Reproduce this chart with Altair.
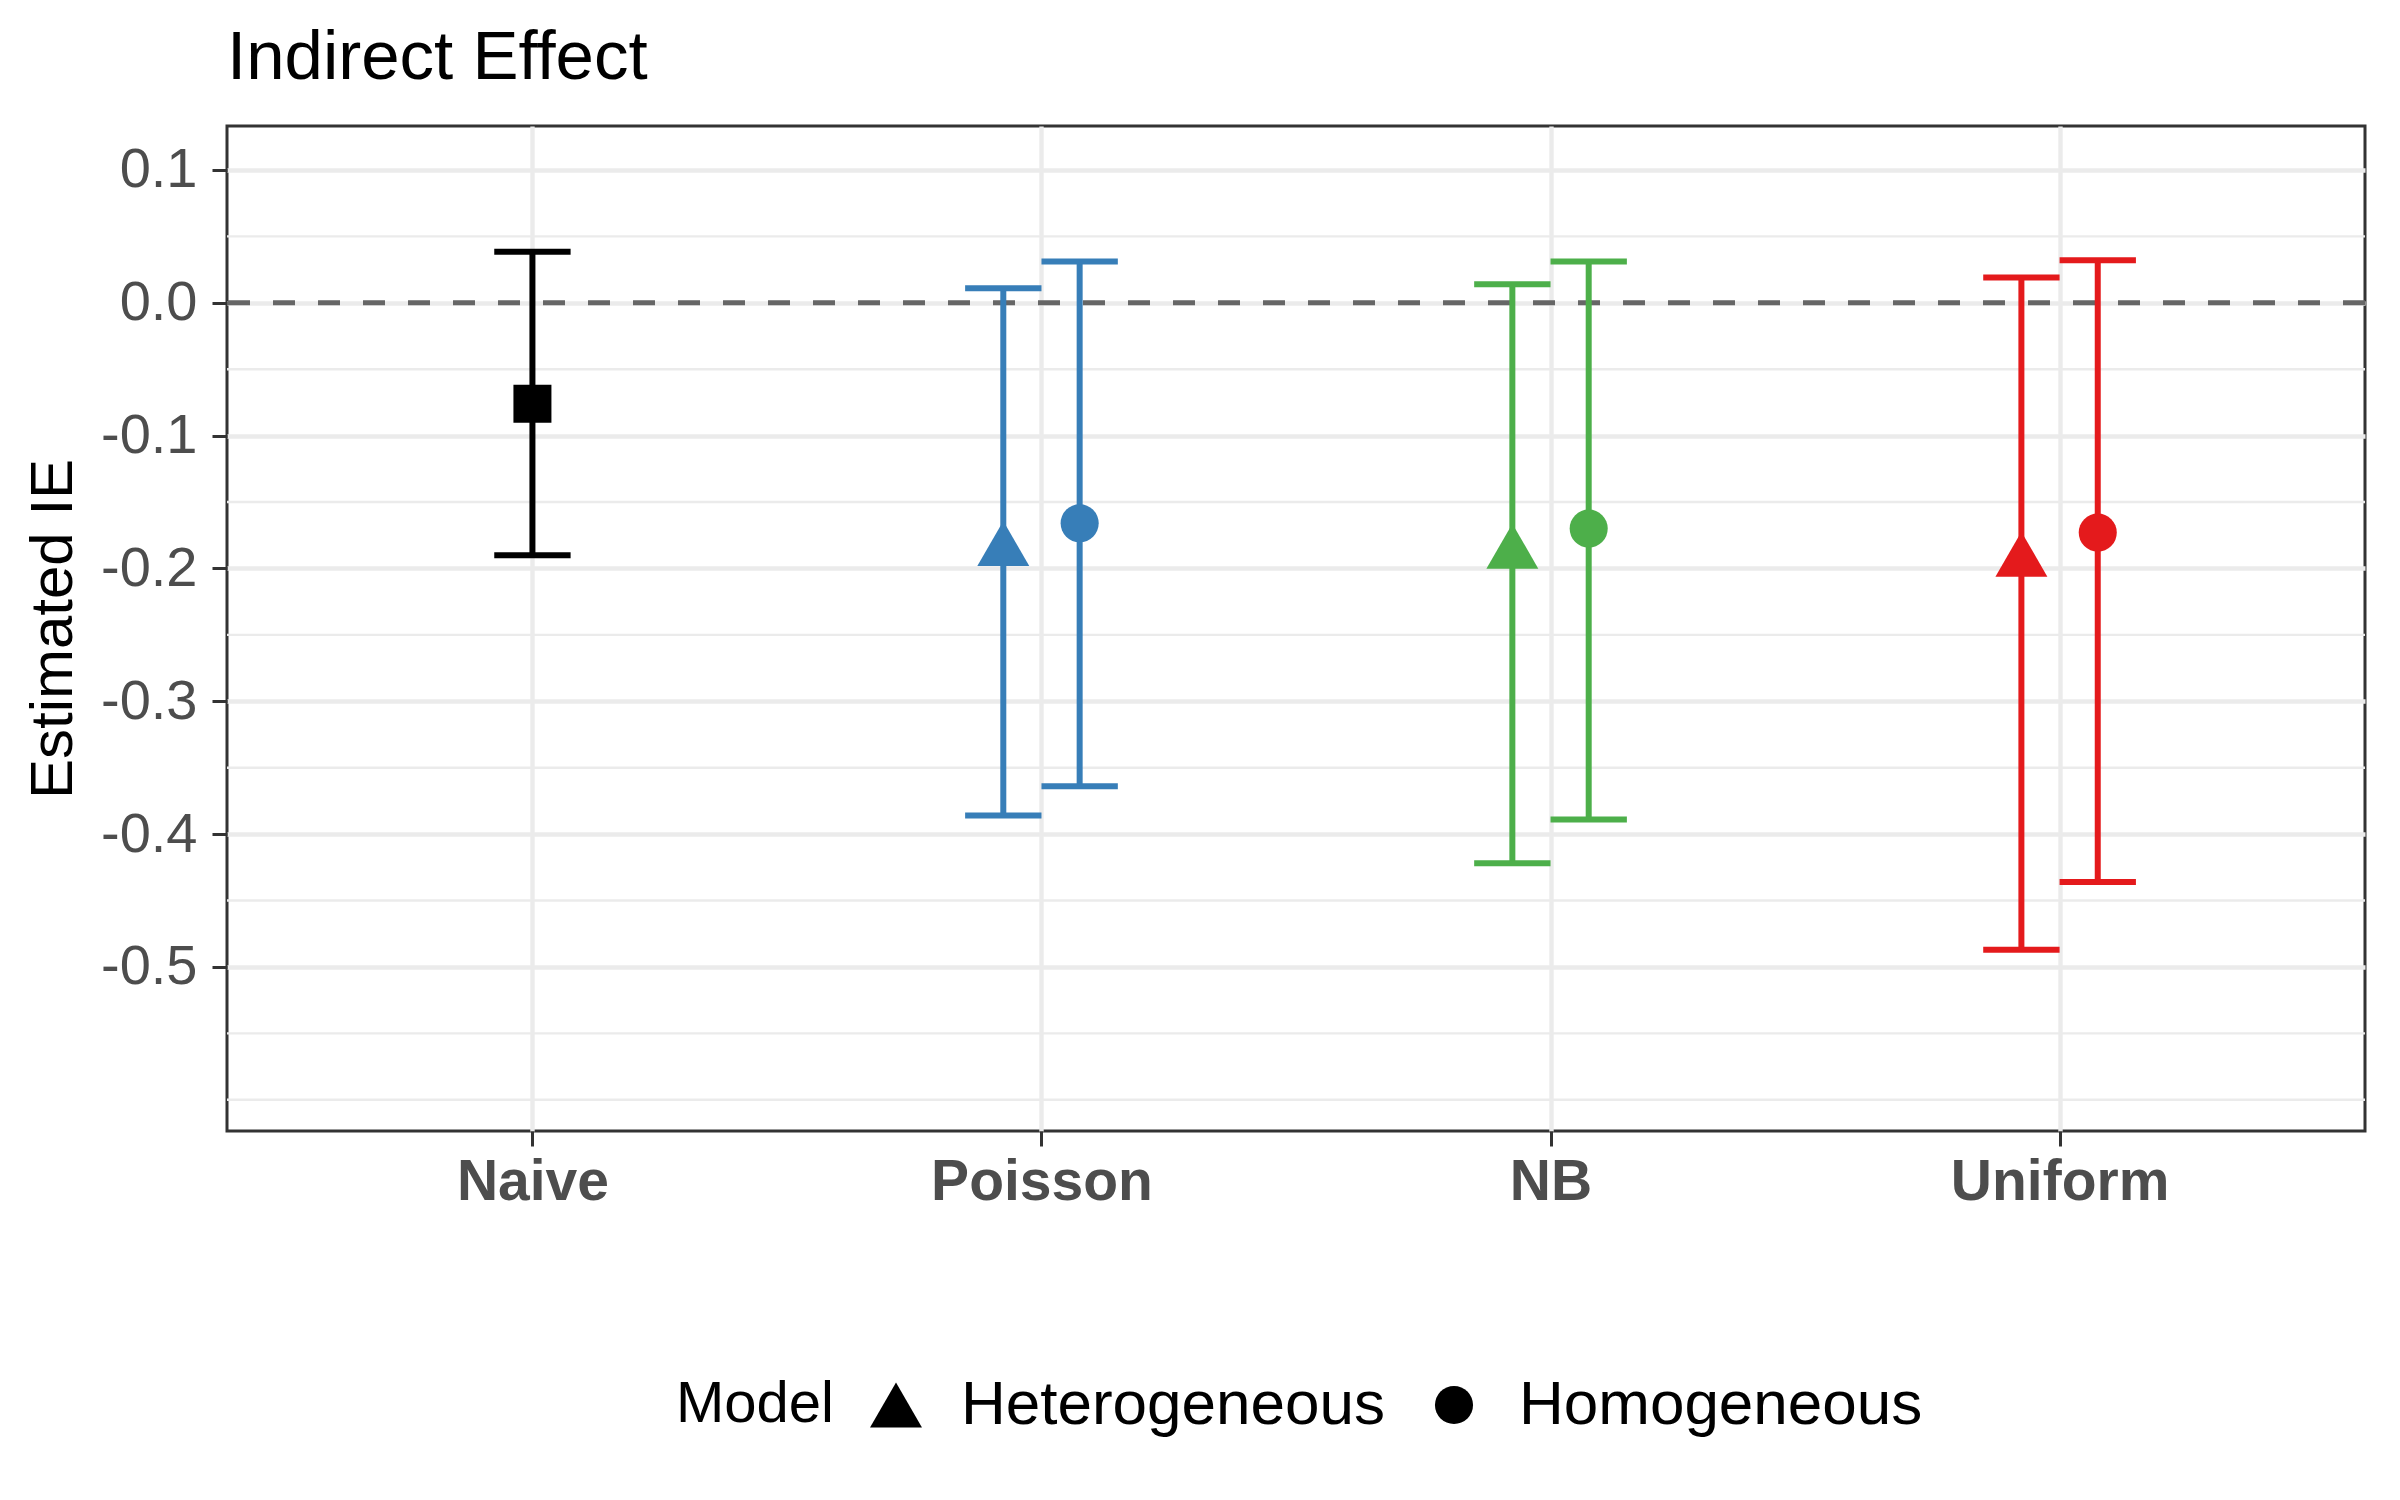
import altair as alt
import pandas as pd

# ---- data ----
methods = ["Naive", "Poisson", "Poisson", "NB", "NB", "Uniform", "Uniform"]
models = ["Naive", "Heterogeneous", "Homogeneous", "Heterogeneous", "Homogeneous",
          "Heterogeneous", "Homogeneous"]
estimates = [-0.076, -0.188, -0.166, -0.190, -0.170, -0.196, -0.173]
lower = [-0.190, -0.386, -0.364, -0.422, -0.389, -0.487, -0.436]
upper = [0.0385, 0.011, 0.031, 0.014, 0.031, 0.019, 0.032]

categories = ["Naive", "Poisson", "NB", "Uniform"]
colors = ["#000000", "#377EB8", "#4DAF4A", "#E41A1C"]
model_levels = ["Heterogeneous", "Homogeneous"]
model_shapes = ["triangle-up", "circle"]
y_breaks = [-0.5, -0.4, -0.3, -0.2, -0.1, 0.0, 0.1]
y_minor = [-0.6, -0.55, -0.45, -0.35, -0.25, -0.15, -0.05, 0.05]

df = pd.DataFrame({"Method": methods, "Model": models, "est": estimates,
                   "lo": lower, "hi": upper})

FONT = "Liberation Sans"
DODGE = 0.075
HALF_CAP = 0.075
cat_js = "[" + ",".join(f"'{c}'" for c in categories) + "]"
pos_expr = (f"indexof({cat_js}, datum.Method) + 1 + "
            f"(datum.Model == 'Heterogeneous' ? -{DODGE} : "
            f"datum.Model == 'Homogeneous' ? {DODGE} : 0)")

xscale = alt.Scale(domain=[0.4, 4.6], nice=False, zero=False)
yscale = alt.Scale(domain=[-0.6235, 0.1331], nice=False, zero=False)
color = alt.Color("Method:N", scale=alt.Scale(domain=categories, range=colors), legend=None)

xaxis = alt.Axis(values=[1, 2, 3, 4], labelExpr=f"{cat_js}[datum.value - 1]", title=None,
                 grid=True, gridColor="#EBEBEB", gridWidth=4.4, domain=False,
                 tickSize=15, tickColor="#333333", tickWidth=3,
                 labelFont=FONT, labelFontSize=57, labelFontWeight="bold",
                 labelColor="#4D4D4D", labelPadding=8.5, labelLimit=1000)
yaxis = alt.Axis(values=y_breaks,
                 labelExpr="datum.value < 0 ? '-' + format(-datum.value, '.1f') : format(datum.value, '.1f')",
                 title="Estimated IE", titleFont=FONT, titleFontSize=60, titleFontWeight="normal",
                 titleColor="black", titleX=-156, titleY=502.5, titleBaseline="alphabetic",
                 titleAngle=270, titleAlign="center",
                 grid=True, gridColor="#EBEBEB", gridWidth=4.4, domain=False,
                 tickSize=15, tickColor="#333333", tickWidth=3,
                 labelFont=FONT, labelFontSize=56, labelColor="#4D4D4D", labelPadding=15,
                 labelLimit=1000)

base = (alt.Chart(df)
        .transform_calculate(xpos=pos_expr)
        .transform_calculate(xl=f"datum.xpos - {HALF_CAP}", xr=f"datum.xpos + {HALF_CAP}"))

minor = alt.Chart(pd.DataFrame({"y": y_minor})).mark_rule(
    color="#EBEBEB", strokeWidth=2.4).encode(y=alt.Y("y:Q", scale=yscale, axis=yaxis))

zero = alt.Chart(pd.DataFrame({"y": [0.0]})).mark_rule(
    color="#666666", strokeWidth=5, strokeDash=[22, 23]).encode(
    y=alt.Y("y:Q", scale=yscale, axis=yaxis))

bars = base.mark_rule(strokeWidth=6).encode(
    x=alt.X("xpos:Q", scale=xscale, axis=xaxis),
    y=alt.Y("lo:Q", scale=yscale, axis=yaxis),
    y2="hi:Q",
    color=color)

caps = base.transform_fold(["lo", "hi"], as_=["bound", "yv"]).mark_rule(strokeWidth=6).encode(
    x=alt.X("xl:Q", scale=xscale, axis=xaxis),
    x2="xr:Q",
    y=alt.Y("yv:Q", scale=yscale, axis=yaxis),
    color=color)

naive_pt = base.transform_filter("datum.Model == 'Naive'").mark_point(
    filled=True, shape="square", size=1444, opacity=1).encode(
    x=alt.X("xpos:Q", scale=xscale, axis=xaxis),
    y=alt.Y("est:Q", scale=yscale, axis=yaxis),
    color=color)

legend = alt.Legend(title="Model", orient="none", legendX=449, legendY=1248,
                    direction="horizontal", titleOrient="left",
                    titleFont=FONT, titleFontSize=58, titleFontWeight="normal", titleColor="black",
                    titleAnchor="middle", titleBaseline="middle", titlePadding=31,
                    labelFont=FONT, labelFontSize=62, labelColor="black", labelLimit=1000,
                    symbolFillColor="black", symbolStrokeWidth=0, symbolOpacity=1,
                    labelOffset=34, columnPadding=38)

shape_enc = alt.Shape("Model:N", scale=alt.Scale(domain=model_levels, range=model_shapes),
                      legend=legend)
size_enc = alt.Size("Model:N", scale=alt.Scale(type="ordinal", domain=model_levels,
                                               range=[2700, 1450]), legend=legend)

# R centres its triangle on the centroid, so the drawn glyph sits a little higher
tri_pts = base.transform_filter("datum.Model == 'Heterogeneous'").mark_point(
    filled=True, opacity=1, yOffset=-9).encode(
    x=alt.X("xpos:Q", scale=xscale, axis=xaxis),
    y=alt.Y("est:Q", scale=yscale, axis=yaxis),
    color=color, shape=shape_enc, size=size_enc)

circ_pts = base.transform_filter("datum.Model == 'Homogeneous'").mark_point(
    filled=True, opacity=1).encode(
    x=alt.X("xpos:Q", scale=xscale, axis=xaxis),
    y=alt.Y("est:Q", scale=yscale, axis=yaxis),
    color=color, shape=shape_enc, size=size_enc)

chart = alt.layer(minor, zero, bars, caps, naive_pt, tri_pts, circ_pts).properties(
    width=2138, height=1005,
    title=alt.TitleParams("Indirect Effect", anchor="start", frame="group", fontSize=69,
                          font=FONT, fontWeight="normal", color="black",
                          baseline="alphabetic", offset=46, dy=68),
    padding={"left": 219, "top": 118, "right": 27, "bottom": 369},
    autosize=alt.AutoSizeParams(type="none"),
).configure_view(stroke="#333333", strokeWidth=3)

chart.save("out.html", embed_options={"renderer": "svg", "actions": False})
